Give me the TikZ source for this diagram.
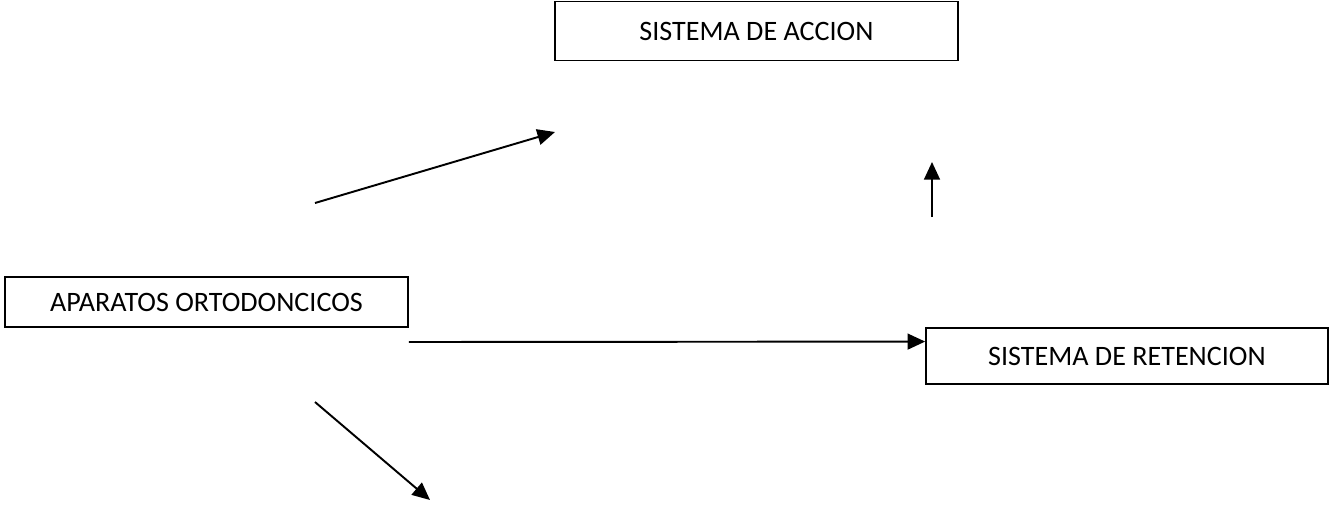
\documentclass[tikz,border=0pt]{standalone}
\usepackage{fontspec}
\setmainfont{Carlito}
\usetikzlibrary{arrows.meta,calc}
\tikzset{
    caja/.style={draw, line width=1pt, inner sep=0pt, font=\fontsize{16}{19}\selectfont},
    flecha/.style={line width=1.1pt, -{Triangle[length=10pt,width=9pt]}}
}
\begin{document}
\begin{tikzpicture}[x=0.02cm, y=-0.02cm]
    \useasboundingbox (0,0) rectangle (1329,505);
    % cajas
    \node[caja, minimum width=8.06cm, minimum height=1.18cm] (accion) at (756.5,31) {SISTEMA DE ACCION};
    \node[caja, minimum width=8.06cm, minimum height=1.0cm] (aparatos) at (206.5,302) {APARATOS ORTODONCICOS};
    \node[caja, minimum width=8.04cm, minimum height=1.12cm] (retencion) at (1127,356) {SISTEMA DE RETENCION};

    % extremos libres
    \coordinate (a1) at (315,203);
    \coordinate (a2) at (555,132);
    \coordinate (v1) at (932,217);
    \coordinate (v2) at (932,162);
    \coordinate (h1) at (aparatos.south east |- 0,342);
    \coordinate (h2) at ($(retencion.north west)!0.25!(retencion.south west)$);
    \coordinate (d1) at (315,402);
    \coordinate (d2) at (430,500);

    % flechas
    \draw[flecha] (a1) -- (a2);
    \draw[flecha] (v1) -- (v2);
    \draw[flecha] (h1) -- (h2);
    \draw[flecha] (d1) -- (d2);
\end{tikzpicture}
\end{document}
